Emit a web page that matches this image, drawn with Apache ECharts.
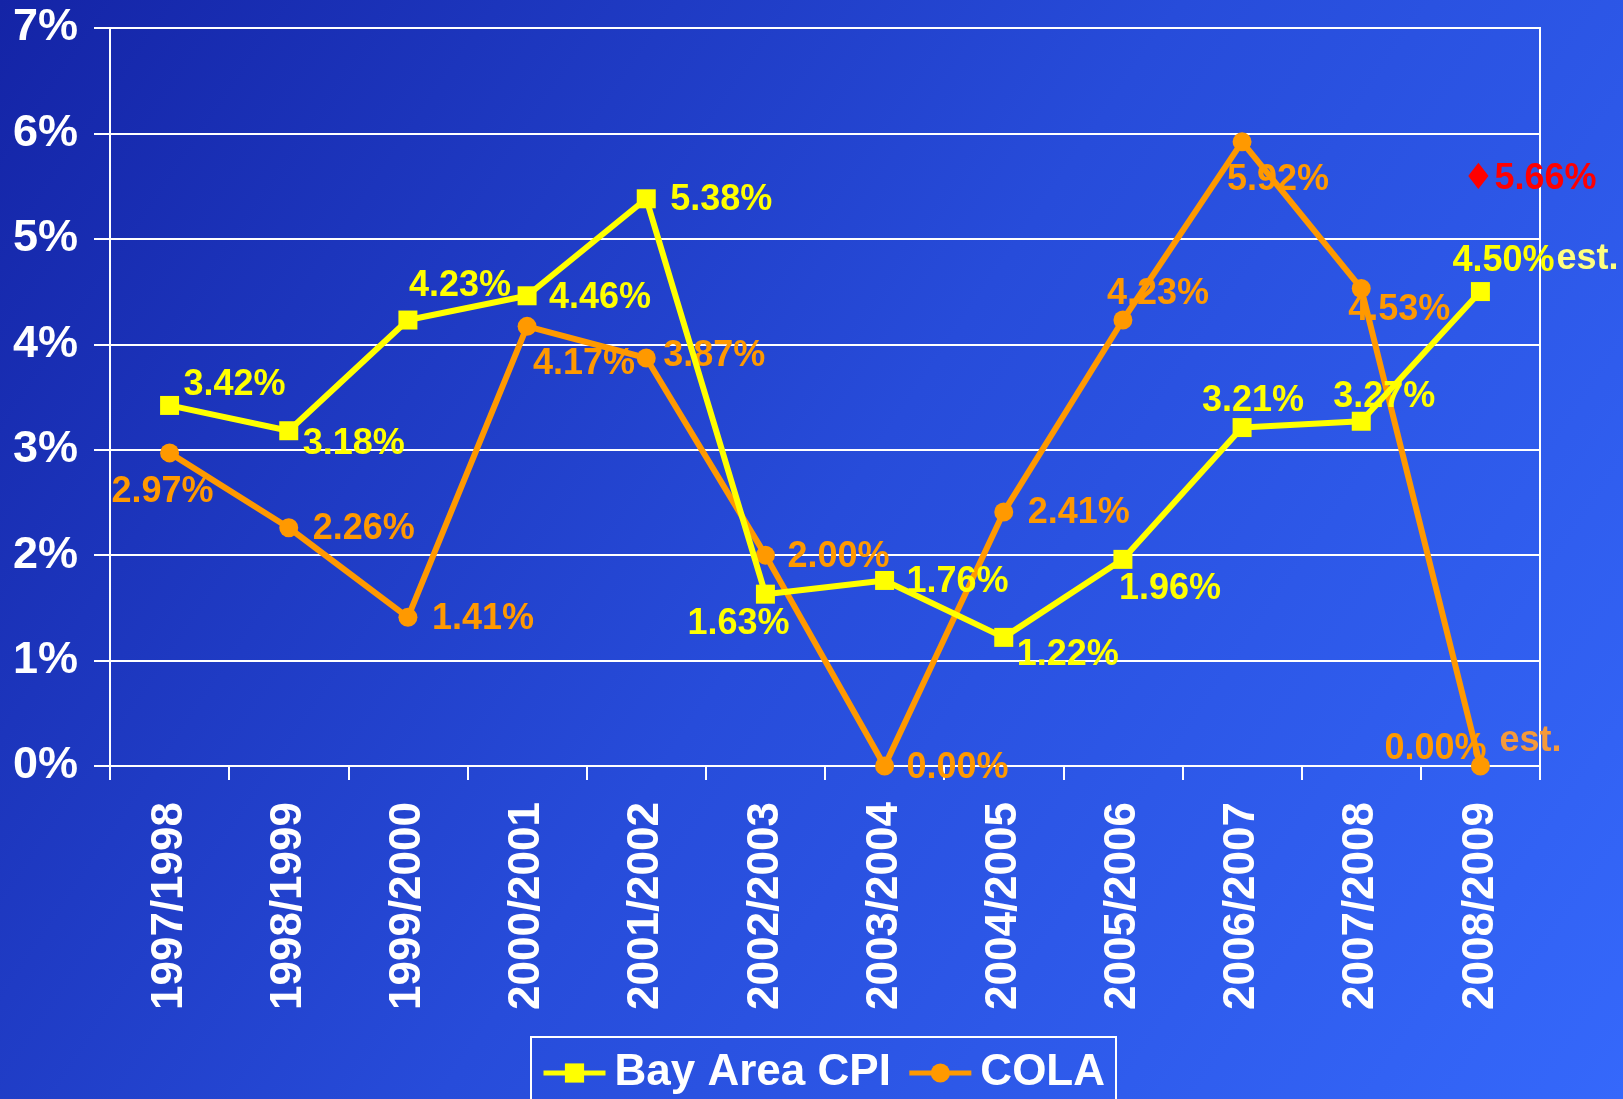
<!DOCTYPE html>
<html><head><meta charset="utf-8">
<script src="https://cdn.jsdelivr.net/npm/echarts@6/dist/echarts.min.js"></script>
<style>html,body{margin:0;padding:0;overflow:hidden;}#c{width:1623px;height:1099px;}</style>
</head><body><div id="c"></div>
<script>
const categories = ['1997/1998','1998/1999','1999/2000','2000/2001','2001/2002','2002/2003','2003/2004','2004/2005','2005/2006','2006/2007','2007/2008','2008/2009'];
const cpiValues = [3.42, 3.18, 4.23, 4.46, 5.38, 1.63, 1.76, 1.22, 1.96, 3.21, 3.27, 4.50];
const colaValues = [2.97, 2.26, 1.41, 4.17, 3.87, 2.00, 0.00, 2.41, 4.23, 5.92, 4.53, 0.00];
const estimateValue = 5.66;
const estimateCategory = '2008/2009';
const yTickValues = [0, 1, 2, 3, 4, 5, 6, 7];

// label offsets (layout only)
const cpiLabelOffsets = [[65,-20],[65,13],[52,-34],[73,2],[75,1],[-27,30],[73,2],[64,18],[47,30],[11,-26],[23,-24],[23,-30]];
const colaLabelOffsets = [[-7,39],[75,1],[75,2],[57,38],[68,-2],[73,2],[73,2],[75,1],[35,-26],[36,38],[38,22],[-45,-17]];

const FONT = "'Liberation Sans', Arial, sans-serif";
const YELLOW = '#ffff00';
const ORANGE = '#ff9900';

function build(values, offsets) {
  return values.map((v, i) => ({
    value: v,
    label: { offset: offsets[i] }
  }));
}

const chart = echarts.init(document.getElementById('c'), null, { renderer: 'canvas' });
chart.setOption({
  animation: false,
  backgroundColor: new echarts.graphic.LinearGradient(0, 0, 1, 1, [
    { offset: 0, color: '#1424a6' },
    { offset: 0.5, color: '#274cda' },
    { offset: 1, color: '#3568fb' }
  ]),
  grid: { left: 110, top: 28, right: 83, bottom: 333, show: true, borderColor: '#ffffff', borderWidth: 2, backgroundColor: 'transparent' },
  legend: {
    left: 531, top: 1037,
    padding: [14, 11, 30, 10],
    borderColor: '#ffffff', borderWidth: 2,
    itemWidth: 62, itemHeight: 24, itemGap: 16,
    lineStyle: { width: 5 },
    textStyle: { color: '#ffffff', fontSize: 44, fontWeight: 'bold', fontFamily: FONT, padding: [0, 0, 0, 4] },
    data: ['Bay Area CPI', 'COLA']
  },
  xAxis: {
    type: 'category',
    data: categories,
    boundaryGap: true,
    axisLine: { lineStyle: { color: '#ffffff', width: 2 } },
    axisTick: { show: true, length: 14, lineStyle: { color: '#ffffff', width: 2 } },
    axisLabel: { rotate: 90, margin: 36, color: '#ffffff', fontSize: 44, fontWeight: 'bold', fontFamily: FONT },
    splitLine: { show: false }
  },
  yAxis: {
    type: 'value',
    min: yTickValues[0], max: yTickValues[yTickValues.length - 1], interval: 1,
    axisLine: { show: true, lineStyle: { color: '#ffffff', width: 2 } },
    axisTick: { show: true, length: 16, lineStyle: { color: '#ffffff', width: 2 } },
    axisLabel: { margin: 32, color: '#ffffff', fontSize: 45, fontWeight: 'bold', fontFamily: FONT, formatter: '{value}%' },
    splitLine: { show: true, lineStyle: { color: '#ffffff', width: 2 } }
  },
  series: [
    {
      name: 'Bay Area CPI', type: 'line',
      data: build(cpiValues, cpiLabelOffsets),
      symbol: 'rect', symbolSize: 19,
      lineStyle: { color: YELLOW, width: 6 },
      itemStyle: { color: YELLOW },
      z: 3,
      label: { show: true, position: 'inside', color: YELLOW, fontSize: 36, fontWeight: 'bold', fontFamily: FONT,
        formatter: p => p.value.toFixed(2) + '%' },
      markPoint: {
        symbol: 'circle', symbolSize: 0,
        data: [
          { coord: [estimateCategory, cpiValues[cpiValues.length - 1]],
            label: { show: true, formatter: 'est.', color: '#ffff80', fontSize: 36, fontWeight: 'bold', fontFamily: FONT, offset: [107, -32] } },
          { coord: [estimateCategory, estimateValue],
            label: { show: true, formatter: '{d|\u2666}' + estimateValue.toFixed(2) + '%', color: '#ff0000', fontSize: 36, fontWeight: 'bold', fontFamily: FONT, offset: [49, 10],
              rich: { d: { fontSize: 36, color: '#ff0000', fontFamily: "'DejaVu Sans', sans-serif" } } } }
        ]
      }
    },
    {
      name: 'COLA', type: 'line',
      data: build(colaValues, colaLabelOffsets),
      symbol: 'circle', symbolSize: 19,
      lineStyle: { color: ORANGE, width: 6 },
      itemStyle: { color: ORANGE },
      z: 2,
      label: { show: true, position: 'inside', color: ORANGE, fontSize: 36, fontWeight: 'bold', fontFamily: FONT,
        formatter: p => p.value.toFixed(2) + '%' },
      markPoint: {
        symbol: 'circle', symbolSize: 0,
        data: [
          { coord: [estimateCategory, colaValues[colaValues.length - 1]],
            label: { show: true, formatter: 'est.', color: '#f59a3a', fontSize: 36, fontWeight: 'bold', fontFamily: FONT, offset: [50, -25] } }
        ]
      }
    }
  ]
});
</script></body></html>
